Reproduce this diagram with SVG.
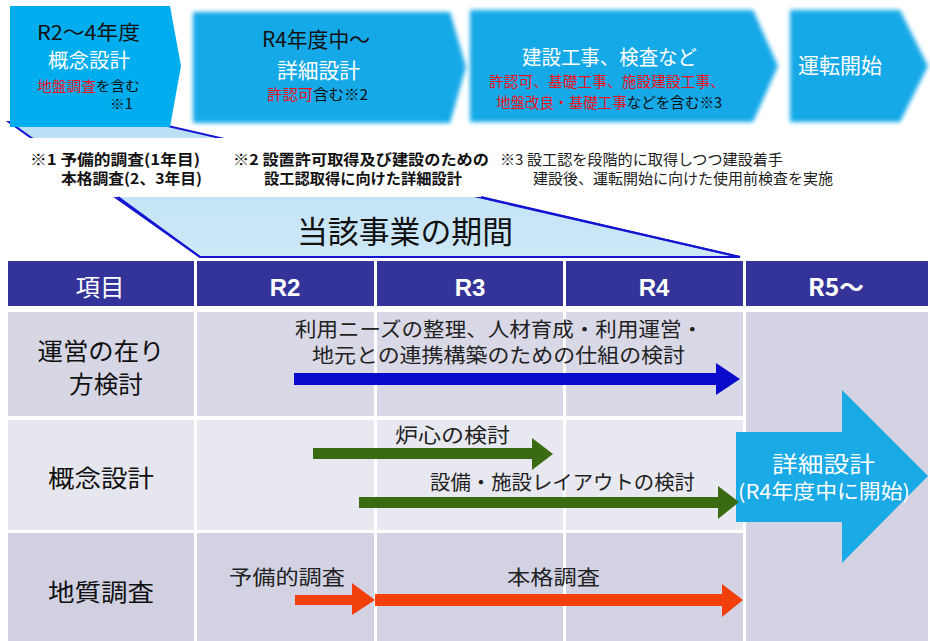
<svg xmlns="http://www.w3.org/2000/svg" width="930" height="641" viewBox="0 0 930 641">
<style>
text{font-family:"Noto Sans CJK JP","Noto Sans",sans-serif;}
.w{fill:#ffffff;}
.k{fill:#111111;}
.r{fill:#E8141E;}
.fn{font-size:15px;font-weight:bold;fill:#111;}
.fn3{font-size:15px;fill:#222;}
.hd{fill:#ffffff;font-size:24px;text-anchor:middle;}
.hb{font-family:"Liberation Sans",Arial,sans-serif;font-weight:bold;}
.lbl{font-size:24px;fill:#111;text-anchor:middle;}
.cell{font-size:20px;fill:#222;}
.chev{fill:#14A9E8;}
</style>
<defs>
<filter id="soft" x="-5%" y="-10%" width="110%" height="120%">
<feGaussianBlur stdDeviation="2.2"/>
</filter>
<linearGradient id="trap" x1="0" y1="0" x2="0" y2="1">
<stop offset="0" stop-color="#B9DEF4"/>
<stop offset="1" stop-color="#CDE8F7"/>
</linearGradient>
</defs>
<rect x="0" y="0" width="930" height="641" fill="#ffffff"/>

<!-- period trapezoid -->
<g id="period">
<polygon points="9,122 168,126 740,257 200,257" fill="url(#trap)" stroke="#1414D2" stroke-width="2"/>
</g>

<!-- top phases -->
<g id="phase1">
<polygon points="10,6 170,6 181,66 170,127 10,127" fill="#00AEEF"/>
<text x="37" y="40" font-size="20" textLength="103" lengthAdjust="spacingAndGlyphs" class="k">R2～4年度</text>
<text x="48" y="68" font-size="20" textLength="82" lengthAdjust="spacingAndGlyphs" class="w">概念設計</text>
<text x="37" y="91" font-size="14" textLength="103" lengthAdjust="spacingAndGlyphs"><tspan class="r">地盤調査</tspan><tspan class="k">を含む</tspan></text>
<text x="110" y="109" font-size="14" textLength="23" lengthAdjust="spacingAndGlyphs" class="k">※1</text>
</g>
<g id="phase2">
<polygon points="193,12 450,12 466,67 450,123 193,123" class="chev" filter="url(#soft)"/>
<text x="262" y="47" font-size="21" textLength="108" lengthAdjust="spacingAndGlyphs" class="k">R4年度中～</text>
<text x="277" y="78" font-size="21" textLength="83" lengthAdjust="spacingAndGlyphs" class="w">詳細設計</text>
<text x="267" y="100" font-size="15" textLength="101" lengthAdjust="spacingAndGlyphs"><tspan class="r">許認可</tspan><tspan class="k">含む※2</tspan></text>
</g>
<g id="phase3">
<polygon points="470,10 753,10 778,66 753,122 470,122" class="chev" filter="url(#soft)"/>
<text x="522" y="65" font-size="20" textLength="175" lengthAdjust="spacingAndGlyphs" class="w">建設工事、検査など</text>
<text x="489" y="87" font-size="15" textLength="236" lengthAdjust="spacingAndGlyphs" class="r">許認可、基礎工事、施設建設工事、</text>
<text x="496" y="108" font-size="15" textLength="226" lengthAdjust="spacingAndGlyphs"><tspan class="r">地盤改良・基礎工事</tspan><tspan class="k">などを含む※3</tspan></text>
</g>
<g id="phase4">
<polygon points="790,10 900,10 928,66 900,122 790,122" class="chev" filter="url(#soft)"/>
<text x="798" y="73" font-size="21" textLength="84" lengthAdjust="spacingAndGlyphs" class="w">運転開始</text>
</g>

<!-- notes band -->
<rect x="0" y="138" width="930" height="59" fill="#ffffff"/>
<g id="notes">
<text x="30" y="165" class="fn" textLength="170" lengthAdjust="spacingAndGlyphs">※1 予備的調査(1年目)</text>
<text x="61" y="184" class="fn" textLength="141" lengthAdjust="spacingAndGlyphs">本格調査(2、3年目)</text>
<text x="233" y="165" class="fn" textLength="256" lengthAdjust="spacingAndGlyphs">※2 設置許可取得及び建設のための</text>
<text x="264" y="184" class="fn" textLength="198" lengthAdjust="spacingAndGlyphs">設工認取得に向けた詳細設計</text>
<text x="500" y="165" class="fn3" textLength="283" lengthAdjust="spacingAndGlyphs">※3 設工認を段階的に取得しつつ建設着手</text>
<text x="533" y="184" class="fn3" textLength="300" lengthAdjust="spacingAndGlyphs">建設後、運転開始に向けた使用前検査を実施</text>
</g>
<g id="period-label">
<line x1="118" y1="197" x2="200" y2="257" stroke="#1414D2" stroke-width="2"/>
<line x1="481" y1="197" x2="740" y2="257" stroke="#1414D2" stroke-width="2"/>
<text x="297" y="243" font-size="31" textLength="216" lengthAdjust="spacingAndGlyphs" fill="#111">当該事業の期間</text>
</g>

<!-- table header -->
<g id="header">
<rect x="8" y="261" width="186" height="45" fill="#333399"/>
<rect x="197" y="261" width="177" height="45" fill="#333399"/>
<rect x="377" y="261" width="186" height="45" fill="#333399"/>
<rect x="566" y="261" width="177" height="45" fill="#333399"/>
<rect x="746" y="261" width="182" height="45" fill="#333399"/>
<text x="100" y="296" class="hd" textLength="49" lengthAdjust="spacingAndGlyphs">項目</text>
<text x="285" y="296" class="hd hb" font-size="25">R2</text>
<text x="470" y="296" class="hd hb" font-size="25">R3</text>
<text x="654" y="296" class="hd hb" font-size="25">R4</text>
<text x="836" y="296" class="hd" font-weight="bold" textLength="56" lengthAdjust="spacingAndGlyphs">R5～</text>
</g>

<!-- table body -->
<g id="grid">
<rect x="8" y="312" width="186" height="104" fill="#D6D6E4"/>
<rect x="197" y="312" width="177" height="104" fill="#D8D8E6"/>
<rect x="377" y="312" width="186" height="104" fill="#D8D8E6"/>
<rect x="566" y="312" width="177" height="104" fill="#D8D8E6"/>
<rect x="8" y="420" width="186" height="110" fill="#E6E6EE"/>
<rect x="197" y="420" width="177" height="110" fill="#E8E8F0"/>
<rect x="377" y="420" width="186" height="110" fill="#E8E8F0"/>
<rect x="566" y="420" width="177" height="110" fill="#E8E8F0"/>
<rect x="8" y="533" width="186" height="108" fill="#D0D0E0"/>
<rect x="197" y="533" width="177" height="108" fill="#D2D2E2"/>
<rect x="377" y="533" width="186" height="108" fill="#D2D2E2"/>
<rect x="566" y="533" width="177" height="108" fill="#D2D2E2"/>
<rect x="746" y="312" width="182" height="329" fill="#D3D3E3"/>
</g>

<g id="row-labels">
<text x="101" y="360" class="lbl" textLength="127" lengthAdjust="spacingAndGlyphs">運営の在り</text>
<text x="106" y="393" class="lbl" textLength="74" lengthAdjust="spacingAndGlyphs">方検討</text>
<text x="101" y="487" class="lbl" textLength="106" lengthAdjust="spacingAndGlyphs">概念設計</text>
<text x="101" y="601" class="lbl" textLength="106" lengthAdjust="spacingAndGlyphs">地質調査</text>
</g>

<!-- detail design big arrow -->
<g id="detail-design">
<polygon points="736,432 842,432 842,390 928,476 842,563 842,522 736,522" fill="#1AAAE6"/>
<text x="772" y="472" font-size="22" textLength="103" lengthAdjust="spacingAndGlyphs" class="w">詳細設計</text>
<text x="738" y="499" font-size="20" textLength="172" lengthAdjust="spacingAndGlyphs" class="w">(R4年度中に開始)</text>
</g>

<!-- task labels -->
<g id="tasks">
<text x="295" y="337" class="cell" textLength="408" lengthAdjust="spacingAndGlyphs">利用ニーズの整理、人材育成・利用運営・</text>
<text x="312" y="363" class="cell" textLength="373" lengthAdjust="spacingAndGlyphs">地元との連携構築のための仕組の検討</text>
<text x="395" y="443" class="cell" textLength="115" lengthAdjust="spacingAndGlyphs">炉心の検討</text>
<text x="430" y="490" class="cell" textLength="265" lengthAdjust="spacingAndGlyphs">設備・施設レイアウトの検討</text>
<text x="229" y="585" class="cell" textLength="116" lengthAdjust="spacingAndGlyphs">予備的調査</text>
<text x="507" y="585" class="cell" textLength="93" lengthAdjust="spacingAndGlyphs">本格調査</text>
</g>

<!-- connectors (block arrows) -->
<g id="connectors">
<polygon points="294,373 716,373 716,363 740,379 716,395 716,385 294,385" fill="#0A0ACC"/>
<polygon points="313,448 532,448 532,438 553,454 532,470 532,459 313,459" fill="#3A6A12"/>
<polygon points="359,497 718,497 718,486 739,502 718,519 718,508 359,508" fill="#3A6A12"/>
<polygon points="295,595 352,595 352,583 375,600 352,615 352,605 295,605" fill="#F2400C"/>
<polygon points="375,594 722,594 722,584 743,600 722,617 722,606 375,606" fill="#F2400C"/>
</g>
</svg>
